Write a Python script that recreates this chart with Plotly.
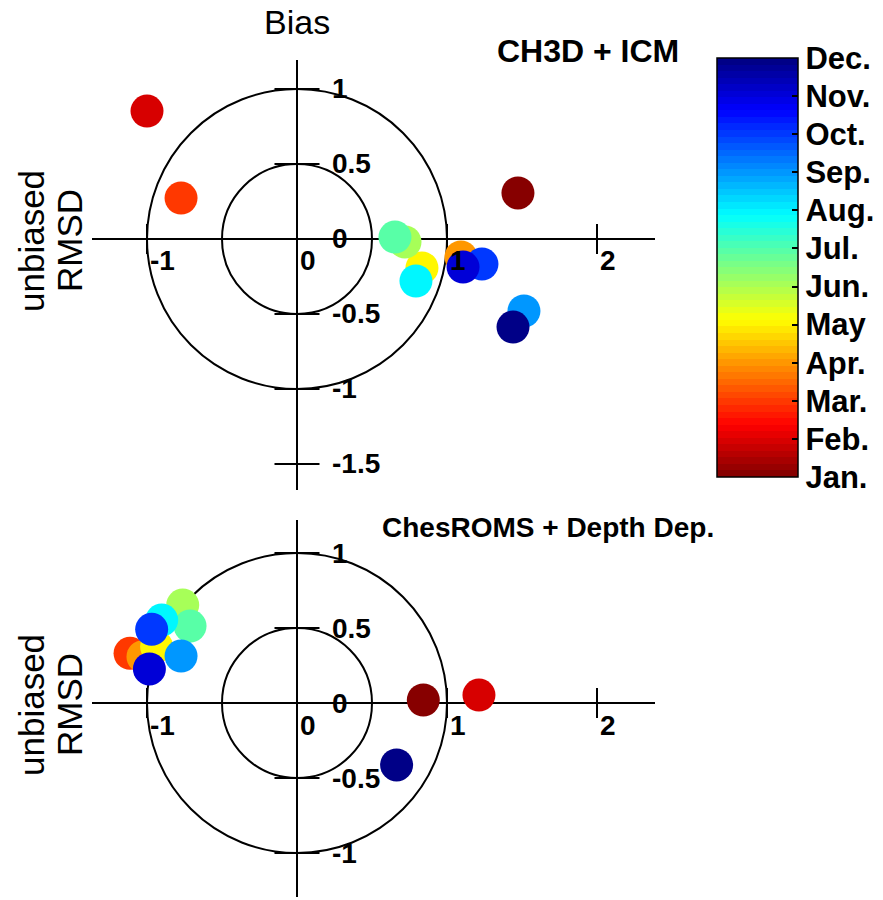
import plotly.graph_objects as go

# ---------------- data ----------------
months = ["Jan.", "Feb.", "Mar.", "Apr.", "May", "Jun.", "Jul.", "Aug.", "Sep.", "Oct.", "Nov.", "Dec."]
month_num = list(range(1, 13))

top_bias = [1.473, -1.000, -0.773, 1.093, 0.833, 0.720, 0.653, 0.793, 1.513, 1.233, 1.107, 1.440]
top_rmsd = [0.307, 0.853, 0.273, -0.120, -0.193, -0.020, 0.013, -0.280, -0.480, -0.167, -0.187, -0.587]

bot_bias = [0.842, 1.213, -1.113, -1.027, -0.936, -0.762, -0.713, -0.902, -0.773, -0.969, -0.984, 0.664]
bot_rmsd = [0.020, 0.053, 0.331, 0.309, 0.376, 0.653, 0.513, 0.553, 0.313, 0.491, 0.227, -0.413]

x_ticks = [-1, 0, 1, 2]
x_tick_text = ["-1", "0", "1", "2"]
top_y_ticks = [1, 0.5, 0, -0.5, -1, -1.5]
top_y_text = ["1", "0.5", "0", "-0.5", "-1", "-1.5"]
bot_y_ticks = [1, 0.5, 0, -0.5, -1]
bot_y_text = ["1", "0.5", "0", "-0.5", "-1"]
circle_radii = [0.5, 1.0]

# ---------------- colors ----------------
def jet(x):
    def cl(v):
        return max(0.0, min(1.0, v))
    r = cl(min(4 * x - 1.5, -4 * x + 4.5))
    g = cl(min(4 * x - 0.5, -4 * x + 3.5))
    b = cl(min(4 * x + 0.5, -4 * x + 2.5))
    return "rgb(%d,%d,%d)" % (round(r * 255), round(g * 255), round(b * 255))

N = 64
colorscale = []
for i in range(N):
    c = jet(1 - (i + 0.5) / N)
    colorscale.append([i / N, c])
    colorscale.append([(i + 1) / N, c])

W, H = 883, 900
SCALE = 150.0  # px per unit
ORIGIN_X = 297
X_PIX = (92, 655)
CB_X0, CB_X1, CB_TOP, CB_BOT = 717, 798, 58, 477

FONT = "Liberation Sans, Arial, sans-serif"

fig = go.Figure()

panels = [
    dict(xa="x", ya="y", bias=top_bias, rmsd=top_rmsd, oy=239, ypix=(40, 500),
         yline=(1.193, -1.673), yt=top_y_ticks, ytt=top_y_text, showscale=True),
    dict(xa="x2", ya="y2", bias=bot_bias, rmsd=bot_rmsd, oy=703, ypix=(510, 900),
         yline=(1.22, -1.293), yt=bot_y_ticks, ytt=bot_y_text, showscale=False),
]

shapes = []
annotations = []
layout_axes = {}

for k, p in enumerate(panels):
    xr = [(X_PIX[0] - ORIGIN_X) / SCALE, (X_PIX[1] - ORIGIN_X) / SCALE]
    yr = [(p["oy"] - p["ypix"][1]) / SCALE, (p["oy"] - p["ypix"][0]) / SCALE]
    xname = "xaxis" if k == 0 else "xaxis2"
    yname = "yaxis" if k == 0 else "yaxis2"
    layout_axes[xname] = dict(domain=[X_PIX[0] / W, X_PIX[1] / W], range=xr, visible=False,
                              anchor=p["ya"], fixedrange=True)
    layout_axes[yname] = dict(domain=[1 - p["ypix"][1] / H, 1 - p["ypix"][0] / H], range=yr,
                              visible=False, anchor=p["xa"], fixedrange=True)
    ln = dict(color="black", width=2)
    # axes lines
    shapes.append(dict(type="line", xref=p["xa"], yref=p["ya"], x0=xr[0], x1=xr[1], y0=0, y1=0, line=ln, layer="below"))
    shapes.append(dict(type="line", xref=p["xa"], yref=p["ya"], x0=0, x1=0, y0=p["yline"][0], y1=p["yline"][1], line=ln, layer="below"))
    # circles
    for r in circle_radii:
        shapes.append(dict(type="circle", xref=p["xa"], yref=p["ya"], x0=-r, x1=r, y0=-r, y1=r,
                           line=ln, layer="below"))
    # x ticks
    for v, t in zip(x_ticks, x_tick_text):
        shapes.append(dict(type="line", xref=p["xa"], yref=p["ya"], x0=v, x1=v, y0=-0.1, y1=0.1, line=ln, layer="below"))
        annotations.append(dict(x=v, y=0, xref=p["xa"], yref=p["ya"], text=t, showarrow=False,
                                xanchor="left", yanchor="middle", xshift=1, yshift=-22,
                                font=dict(family=FONT, size=28, color="black", weight="bold")))
    # y ticks
    for v, t in zip(p["yt"], p["ytt"]):
        shapes.append(dict(type="line", xref=p["xa"], yref=p["ya"], x0=-0.15, x1=0.15, y0=v, y1=v, line=ln, layer="below"))
        annotations.append(dict(x=0.22, y=v, xref=p["xa"], yref=p["ya"], text=t, showarrow=False,
                                xanchor="left", yanchor="middle",
                                font=dict(family=FONT, size=28, color="black", weight="bold")))
    # y label
    yc = 1 - (p["oy"] + 2) / H
    annotations.append(dict(x=31 / W, y=yc, xref="paper", yref="paper", text="unbiased", textangle=-90,
                            showarrow=False, xanchor="center", yanchor="middle",
                            font=dict(family=FONT, size=35, color="black")))
    annotations.append(dict(x=69 / W, y=yc, xref="paper", yref="paper", text="RMSD", textangle=-90,
                            showarrow=False, xanchor="center", yanchor="middle",
                            font=dict(family=FONT, size=35, color="black")))

    marker = dict(size=33, color=month_num, colorscale=colorscale, cmin=1, cmax=12,
                  line=dict(width=0), opacity=1, showscale=p["showscale"])
    if p["showscale"]:
        marker["colorbar"] = dict(
            x=CB_X0 / W, xanchor="left", xref="paper", xpad=0, ypad=0,
            y=1 - (CB_TOP + CB_BOT) / 2 / H, yanchor="middle", len=(CB_BOT - CB_TOP) / H, lenmode="fraction",
            thickness=CB_X1 - CB_X0, thicknessmode="pixels",
            outlinewidth=1.5, outlinecolor="black",
            tickvals=month_num, ticktext=months, ticks="inside", ticklen=6, tickcolor="black",
            tickwidth=1.5,
            tickfont=dict(family=FONT, size=31, color="black", weight="bold"),
        )
    fig.add_trace(go.Scatter(x=p["bias"], y=p["rmsd"], mode="markers", xaxis=p["xa"], yaxis=p["ya"],
                             marker=marker, text=months, hoverinfo="text+x+y", showlegend=False))

# left-side inner ticks of the colorbar (mirroring the right side)
for m in month_num[1:-1]:
    ypx = CB_BOT - (m - 1) / (len(month_num) - 1) * (CB_BOT - CB_TOP)
    shapes.append(dict(type="line", xref="paper", yref="paper", x0=CB_X0 / W, x1=(CB_X0 + 6) / W,
                       y0=1 - ypx / H, y1=1 - ypx / H, line=dict(color="black", width=1.5)))

# titles
annotations.append(dict(x=297 / W, y=1 - 22 / H, xref="paper", yref="paper", text="Bias", showarrow=False,
                        xanchor="center", yanchor="middle", font=dict(family=FONT, size=34, color="black")))
annotations.append(dict(x=588 / W, y=1 - 51 / H, xref="paper", yref="paper", text="CH3D + ICM", showarrow=False,
                        xanchor="center", yanchor="middle",
                        font=dict(family=FONT, size=32, color="black", weight="bold")))
annotations.append(dict(x=548 / W, y=1 - 527 / H, xref="paper", yref="paper", text="ChesROMS + Depth Dep.",
                        showarrow=False, xanchor="center", yanchor="middle",
                        font=dict(family=FONT, size=28, color="black", weight="bold")))

fig.update_layout(width=W, height=H, margin=dict(l=0, r=0, t=0, b=0), autosize=False,
                  paper_bgcolor="white", plot_bgcolor="white", shapes=shapes, annotations=annotations,
                  **layout_axes)

fig.write_html("out.html")
